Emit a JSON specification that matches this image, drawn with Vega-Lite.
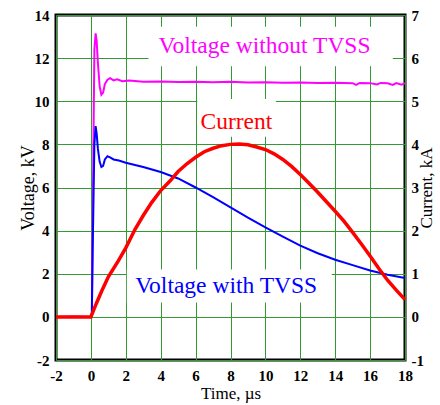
{
  "$schema": "https://vega.github.io/schema/vega-lite/v6.json",
  "autosize": "none",
  "width": 349,
  "height": 345,
  "padding": {"left": 56, "top": 15, "right": 35, "bottom": 45},
  "background": "white",
  "config": {
    "view": {"stroke": "#000000", "strokeWidth": 3},
    "axis": {
      "labelFont": "Liberation Serif",
      "labelFontWeight": "bold",
      "labelFontSize": 15,
      "labelColor": "#000000",
      "labelOverlap": false,
      "labelBound": false,
      "labelFlush": false,
      "labelSeparation": 0,
      "labelExpr": "replace(datum.label, '\u2212', '-')",
      "titleFont": "Liberation Serif",
      "titleFontWeight": "normal",
      "titleColor": "#000000",
      "ticks": false,
      "domain": false,
      "gridColor": "#339933",
      "gridWidth": 1,
      "gridOpacity": 1
    },
    "axisX": {"labelOverlap": false},
    "axisQuantitative": {"labelOverlap": false}
  },
  "datasets": {
    "without": [
      {"t": -2, "v": 0}, {"t": -1, "v": 0.02}, {"t": 0, "v": 0}, {"t": 0.06, "v": 0.1},
      {"t": 0.12, "v": 6}, {"t": 0.2, "v": 12.4}, {"t": 0.27, "v": 13.15}, {"t": 0.33, "v": 12.8},
      {"t": 0.4, "v": 11.8}, {"t": 0.5, "v": 10.7}, {"t": 0.6, "v": 10.3}, {"t": 0.7, "v": 10.4},
      {"t": 0.8, "v": 10.8}, {"t": 0.95, "v": 11.0}, {"t": 1.1, "v": 11.07}, {"t": 1.3, "v": 10.97},
      {"t": 1.5, "v": 11.02}, {"t": 1.8, "v": 10.93}, {"t": 2.2, "v": 10.96}, {"t": 3, "v": 10.9},
      {"t": 4, "v": 10.92}, {"t": 5, "v": 10.89}, {"t": 6, "v": 10.9}, {"t": 7, "v": 10.88},
      {"t": 8, "v": 10.9}, {"t": 9, "v": 10.87}, {"t": 10, "v": 10.88}, {"t": 11, "v": 10.86},
      {"t": 12, "v": 10.87}, {"t": 13, "v": 10.85}, {"t": 14, "v": 10.86}, {"t": 15, "v": 10.84},
      {"t": 15.2, "v": 10.76}, {"t": 15.4, "v": 10.85}, {"t": 16, "v": 10.84}, {"t": 16.4, "v": 10.78},
      {"t": 16.6, "v": 10.85}, {"t": 17, "v": 10.83}, {"t": 17.3, "v": 10.76}, {"t": 17.5, "v": 10.84},
      {"t": 17.8, "v": 10.77}, {"t": 18, "v": 10.84}
    ],
    "with": [
      {"t": -2, "v": 0}, {"t": 0, "v": 0}, {"t": 0.05, "v": 0.05}, {"t": 0.1, "v": 3},
      {"t": 0.2, "v": 8.0}, {"t": 0.27, "v": 8.85}, {"t": 0.33, "v": 8.5}, {"t": 0.4, "v": 7.8},
      {"t": 0.5, "v": 7.2}, {"t": 0.6, "v": 6.95}, {"t": 0.7, "v": 7.0}, {"t": 0.8, "v": 7.3},
      {"t": 0.95, "v": 7.45}, {"t": 1.1, "v": 7.4}, {"t": 1.3, "v": 7.3}, {"t": 1.6, "v": 7.25},
      {"t": 2, "v": 7.15}, {"t": 3, "v": 6.95}, {"t": 4, "v": 6.72}, {"t": 5, "v": 6.42},
      {"t": 6, "v": 6.0}, {"t": 7, "v": 5.55}, {"t": 8, "v": 5.08}, {"t": 9, "v": 4.6},
      {"t": 10, "v": 4.15}, {"t": 11, "v": 3.72}, {"t": 12, "v": 3.3}, {"t": 13, "v": 2.95},
      {"t": 14, "v": 2.65}, {"t": 15, "v": 2.4}, {"t": 16, "v": 2.15}, {"t": 17, "v": 1.95},
      {"t": 18, "v": 1.8}
    ],
    "current": [
      {"t": -2, "v": 0}, {"t": 0, "v": 0}, {"t": 0.3, "v": 0.3}, {"t": 0.62, "v": 0.6},
      {"t": 1, "v": 0.93}, {"t": 1.57, "v": 1.3}, {"t": 2, "v": 1.6}, {"t": 2.53, "v": 2.03},
      {"t": 3, "v": 2.35}, {"t": 3.48, "v": 2.65}, {"t": 4, "v": 2.93}, {"t": 4.53, "v": 3.15},
      {"t": 5, "v": 3.37}, {"t": 5.5, "v": 3.55}, {"t": 6, "v": 3.7}, {"t": 6.5, "v": 3.83},
      {"t": 7, "v": 3.91}, {"t": 7.5, "v": 3.97}, {"t": 8, "v": 4.0}, {"t": 8.5, "v": 4.01},
      {"t": 9, "v": 3.99}, {"t": 9.5, "v": 3.94}, {"t": 10, "v": 3.88}, {"t": 10.5, "v": 3.78},
      {"t": 11, "v": 3.65}, {"t": 11.5, "v": 3.49}, {"t": 12, "v": 3.3}, {"t": 12.5, "v": 3.1},
      {"t": 13, "v": 2.89}, {"t": 13.5, "v": 2.67}, {"t": 14, "v": 2.45}, {"t": 14.5, "v": 2.22},
      {"t": 15, "v": 1.96}, {"t": 15.5, "v": 1.69}, {"t": 16, "v": 1.41}, {"t": 16.5, "v": 1.12},
      {"t": 17, "v": 0.85}, {"t": 17.5, "v": 0.62}, {"t": 18, "v": 0.4}
    ],
    "boxes": [
      {"t": 3.3, "t2": 17.3, "v": 11.62, "v2": 13.45},
      {"t": 6.1, "t2": 10.6, "v": 8.35, "v2": 10.1},
      {"t": 2.06, "t2": 13.8, "v": 0.67, "v2": 2.2}
    ],
    "labels": [
      {"label": "Voltage without TVSS", "t": 9.95, "v": 12.55, "color": "#ff00ff"},
      {"label": "Current", "t": 8.34, "v": 9.05, "color": "#ff0000"},
      {"label": "Voltage with TVSS", "t": 7.75, "v": 1.45, "color": "#0000ff"}
    ]
  },
  "encoding": {
    "x": {"field": "t", "type": "quantitative", "scale": {"domain": [-2, 18], "nice": false, "zero": false},
      "axis": {"values": [-2, 0, 2, 4, 6, 8, 10, 12, 14, 16, 18], "labelOverlap": false, "labelSeparation": 0, "grid": true, "title": "Time, µs", "titleFontSize": 17, "titlePadding": 2, "labelPadding": 8}}
  },
  "layer": [
    {
      "layer": [
        {
          "data": {"name": "boxes"},
          "mark": {"type": "rect", "fill": "#ffffff", "opacity": 1},
          "encoding": {
            "x2": {"field": "t2"},
            "y": {"field": "v", "type": "quantitative", "scale": {"domain": [-2, 14], "nice": false, "zero": false},
              "axis": {"values": [-2, 0, 2, 4, 6, 8, 10, 12, 14], "labelOverlap": false, "grid": true, "title": "Voltage, kV", "titleFontSize": 18, "labelPadding": 7, "titlePadding": -3}},
            "y2": {"field": "v2"}
          }
        },
        {
          "data": {"name": "without"},
          "mark": {"type": "line", "color": "#ff00ff", "strokeWidth": 2},
          "encoding": {
            "y": {"field": "v", "type": "quantitative"}
          }
        },
        {
          "data": {"name": "with"},
          "mark": {"type": "line", "color": "#0000ff", "strokeWidth": 2},
          "encoding": {
            "y": {"field": "v", "type": "quantitative"}
          }
        },
        {
          "data": {"name": "labels"},
          "mark": {"type": "text", "font": "Liberation Serif", "fontSize": 23.5, "baseline": "middle", "align": "center"},
          "encoding": {
            "y": {"field": "v", "type": "quantitative"},
            "text": {"field": "label"},
            "color": {"field": "color", "type": "nominal", "scale": null}
          }
        }
      ]
    },
    {
      "data": {"name": "current"},
      "mark": {"type": "line", "color": "#ff0000", "strokeWidth": 3.5},
      "encoding": {
        "y": {"field": "v", "type": "quantitative", "scale": {"domain": [-1, 7], "nice": false, "zero": false},
          "axis": {"orient": "right", "values": [-1, 0, 1, 2, 3, 4, 5, 6, 7], "labelOverlap": false, "grid": false, "title": "Current, kA", "titleFontSize": 17, "titleAngle": -90, "titleBaseline": "bottom", "labelPadding": 6, "titlePadding": 12}}
      }
    }
  ],
  "resolve": {"scale": {"y": "independent"}, "axis": {"y": "independent"}}
}
